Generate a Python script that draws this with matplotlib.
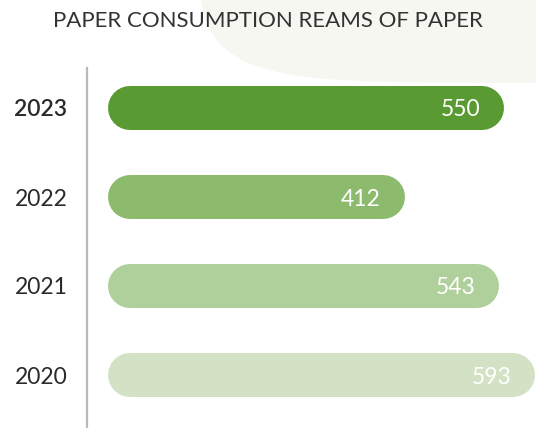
import matplotlib.pyplot as plt
import numpy as np
from matplotlib.path import Path
from matplotlib.patches import PathPatch

years = ["2023", "2022", "2021", "2020"]
reams = [550, 412, 543, 593]
bar_colors = ["#5a9a32", "#8cbb6e", "#afd09a", "#d3e2c4"]
title = "PAPER CONSUMPTION REAMS OF PAPER"

W, H = 536, 428
PX_PER_UNIT = 0.72
FONT = ["Lato", "DejaVu Sans"]

fig = plt.figure(figsize=(W / 100, H / 100), dpi=100)
fig.patch.set_facecolor("white")

# pale backdrop shape in the top right corner (superellipse, pixel coords)
bg = fig.add_axes([0, 0, 1, 1])
bg.set_xlim(0, W)
bg.set_ylim(H, 0)
bg.axis("off")
t = np.linspace(0, 2 * np.pi, 400)
n = 6
cx, cy, a, b = 620, -120, 422, 203
xs = cx + a * np.sign(np.cos(t)) * np.abs(np.cos(t)) ** (2 / n)
ys = cy + b * np.sign(np.sin(t)) * np.abs(np.sin(t)) ** (2 / n)
bg.add_patch(PathPatch(Path(np.column_stack([xs, ys])), fc="#f7f7f2", ec="none"))

# main axes: value 0 sits at x=108px, spine at x=87px
left_px = 87
ax = fig.add_axes([left_px / W, 0, 1 - left_px / W, 1])
ax.patch.set_alpha(0)
ax.set_xlim(-(108 - left_px) / PX_PER_UNIT, (W - 108) / PX_PER_UNIT)
ax.set_ylim((H - 108) / 89, -108 / 89)

bar_h_px = 44
r = bar_h_px / 2 / PX_PER_UNIT
lw_pt = bar_h_px * 72 / 100
for i, (v, c) in enumerate(zip(reams, bar_colors)):
    ax.plot([r, v - r], [i, i], color=c, lw=lw_pt, solid_capstyle="round")
    ax.text(v - 33, i, str(v), ha="right", va="center_baseline", color="white",
            fontsize=16.5, family=FONT)

for s in ["top", "right", "bottom"]:
    ax.spines[s].set_visible(False)
ax.spines["left"].set_color("#b6babe")
ax.spines["left"].set_linewidth(1.6)
ax.spines["left"].set_bounds((68 - 108) / 89, (H - 108) / 89)
ax.set_xticks([])
ax.set_yticks(range(len(years)))
ax.set_yticklabels(years, fontsize=16.5, family=FONT, color="#2a2a2a")
ax.get_yticklabels()[0].set_fontweight("semibold")
ax.tick_params(axis="y", length=0, pad=14)

fig.text(0.5, 1 - 27 / H, title, ha="center", va="baseline", fontsize=16,
         family=FONT, color="#333333")

fig.savefig("out.png", dpi=100)
